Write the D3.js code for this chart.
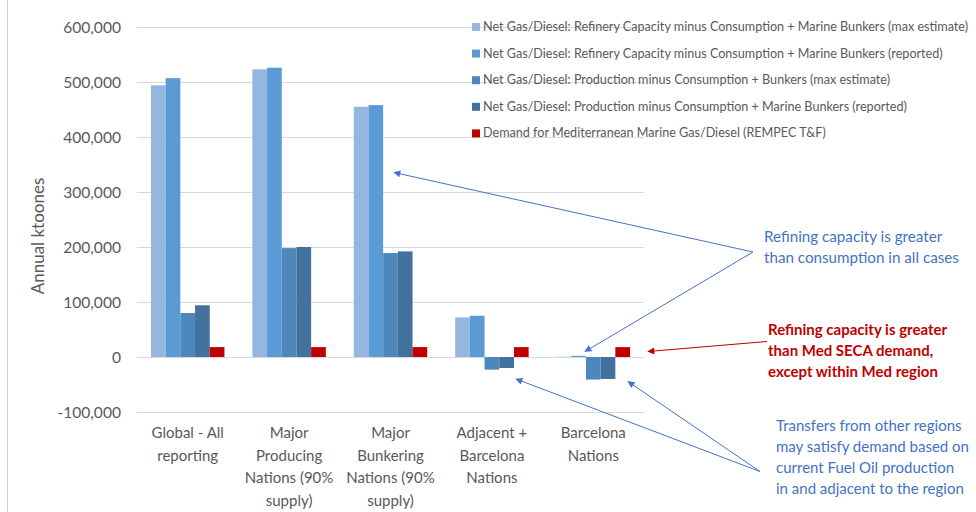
<!DOCTYPE html>
<html><head><meta charset="utf-8">
<script src="https://cdn.jsdelivr.net/npm/d3@7/dist/d3.min.js"></script>
<style>body{margin:0;background:#fff;} svg{display:block;}</style>
</head><body>
<script>
const categories = [
  ["Global - All", "reporting"],
  ["Major", "Producing", "Nations (90%", "supply)"],
  ["Major", "Bunkering", "Nations (90%", "supply)"],
  ["Adjacent +", "Barcelona", "Nations"],
  ["Barcelona", "Nations"]
];
const categoryKeys = ["Global", "Producing", "Bunkering", "Adjacent", "Barcelona"];
const seriesNames = [
  "Net Gas/Diesel: Refinery Capacity minus Consumption + Marine Bunkers (max estimate)",
  "Net Gas/Diesel: Refinery Capacity minus Consumption + Marine Bunkers (reported)",
  "Net Gas/Diesel: Production minus Consumption +  Bunkers (max estimate)",
  "Net Gas/Diesel: Production minus Consumption + Marine Bunkers (reported)",
  "Demand for Mediterranean Marine Gas/Diesel (REMPEC T&F)"
];
const refineryMax      = [494000, 523000, 455000, 72000, 500];
const refineryReported = [507000, 526000, 458000, 75000, 2000];
const productionMax    = [80000, 198000, 189000, -23000, -41000];
const productionRep    = [94000, 200000, 192000, -20000, -40000];
const medDemand        = [18000, 18000, 18000, 18000, 18000];
const seriesValues = [refineryMax, refineryReported, productionMax, productionRep, medDemand];
const yTicks = [-100000, 0, 100000, 200000, 300000, 400000, 500000, 600000];
const colors = ["#95B7DF", "#5B9BD5", "#4E87BB", "#41719C", "#C00000"];

const W = 976, H = 512;
const svg = d3.select("body").append("svg").attr("width", W).attr("height", H);
const font = "Lato, 'Open Sans', sans-serif";
const grey = "#595959";

// left border line
svg.append("line").attr("x1", 7.5).attr("x2", 7.5).attr("y1", 0).attr("y2", H)
  .attr("stroke", "#d0d0d0").attr("stroke-width", 1);

const y = d3.scaleLinear().domain([-100000, 600000]).range([412, 27]);
const x = d3.scaleBand().domain(categoryKeys).range([137, 644]).padding(0);
const xs = d3.scaleBand().domain(d3.range(5)).range([0, x.bandwidth()]).paddingInner(0).paddingOuter(0.95);

// gridlines
svg.append("g").selectAll("line").data(yTicks).join("line")
  .attr("x1", 137).attr("x2", 644)
  .attr("y1", d => Math.round(y(d)) + 0.5).attr("y2", d => Math.round(y(d)) + 0.5)
  .attr("stroke", "#d9d9d9").attr("stroke-width", 1);

// y axis
const fmt = d3.format(",");
const yAxis = d3.axisLeft(y).tickValues(yTicks).tickFormat(d => fmt(d).replace("\u2212", "-")).tickSize(0).tickPadding(0);
const ya = svg.append("g").attr("transform", "translate(121,0)").call(yAxis);
ya.select(".domain").remove();
ya.selectAll("text").attr("fill", grey).style("font-family", font).style("font-size", "15.6px");

// y title
svg.append("text").attr("transform", "translate(44,236) rotate(-90)")
  .attr("text-anchor", "middle").attr("fill", grey)
  .style("font-family", font).style("font-size", "17px").text("Annual ktoones");

// bars
const bars = [];
seriesValues.forEach((vals, s) => vals.forEach((v, i) => bars.push({s, i, v})));
svg.append("g").selectAll("rect").data(bars).join("rect")
  .attr("x", d => x(categoryKeys[d.i]) + xs(d.s))
  .attr("width", xs.bandwidth())
  .attr("y", d => Math.min(y(d.v), y(0)))
  .attr("height", d => Math.abs(y(d.v) - y(0)))
  .attr("fill", d => colors[d.s]);

// category labels
const cl = svg.append("g").selectAll("text").data(categories).join("text")
  .attr("text-anchor", "middle").attr("fill", grey)
  .style("font-family", font).style("font-size", "15px");
cl.each(function(lines, i) {
  const t = d3.select(this);
  lines.forEach((ln, k) => {
    t.append("tspan").attr("x", x(categoryKeys[i]) + x.bandwidth() / 2)
      .attr("y", 438 + k * 22.5).text(ln);
  });
});

// legend
const lg = svg.append("g");
seriesNames.forEach((n, k) => {
  const cy = 27 + k * 26.6;
  lg.append("rect").attr("x", 472).attr("y", cy - 4).attr("width", 8).attr("height", 8).attr("fill", colors[k]);
  lg.append("text").attr("x", 483).attr("y", cy + 4).attr("fill", grey)
    .style("font-family", font).style("font-size", "12.6px").text(n);
});

// arrow markers
const defs = svg.append("defs");
function marker(id, col) {
  defs.append("marker").attr("id", id).attr("viewBox", "0 0 10 10")
    .attr("refX", 9).attr("refY", 5).attr("markerWidth", 9).attr("markerHeight", 7)
    .attr("markerUnits", "userSpaceOnUse").attr("orient", "auto")
    .append("path").attr("d", "M0,0 L10,5 L0,10 Z").attr("fill", col);
}
marker("ab", "#4472C4");
marker("ar", "#C00000");

const arrows = [
  {from: [753, 252], to: [394, 172.5], c: "#4472C4", m: "ab"},
  {from: [753, 252], to: [585, 351.5], c: "#4472C4", m: "ab"},
  {from: [767, 341.5], to: [648, 351.5], c: "#C00000", m: "ar"},
  {from: [760, 471.5], to: [628, 381.5], c: "#4472C4", m: "ab"},
  {from: [760, 471.5], to: [516, 379], c: "#4472C4", m: "ab"}
];
svg.append("g").selectAll("line").data(arrows).join("line")
  .attr("x1", d => d.from[0]).attr("y1", d => d.from[1])
  .attr("x2", d => d.to[0]).attr("y2", d => d.to[1])
  .attr("stroke", d => d.c).attr("stroke-width", 1)
  .attr("marker-end", d => `url(#${d.m})`);

// annotations
function note(lines, x0, y0, col, bold, size) {
  const t = svg.append("text").attr("fill", col).style("font-family", font)
    .style("font-size", size + "px").style("font-weight", bold ? "bold" : "normal");
  lines.forEach((ln, k) => t.append("tspan").attr("x", x0).attr("y", y0 + k * 21).text(ln));
}
note(["Refining capacity is greater", "than consumption in all cases"], 764, 242, "#4472C4", false, 15.2);
note(["Refining capacity is greater", "than Med SECA demand,", "except within Med region"], 768, 335, "#C00000", true, 15);
note(["Transfers from other regions", "may satisfy demand based on", "current Fuel Oil production", "in and adjacent to the region"], 776, 431, "#4472C4", false, 15);
</script>
</body></html>
